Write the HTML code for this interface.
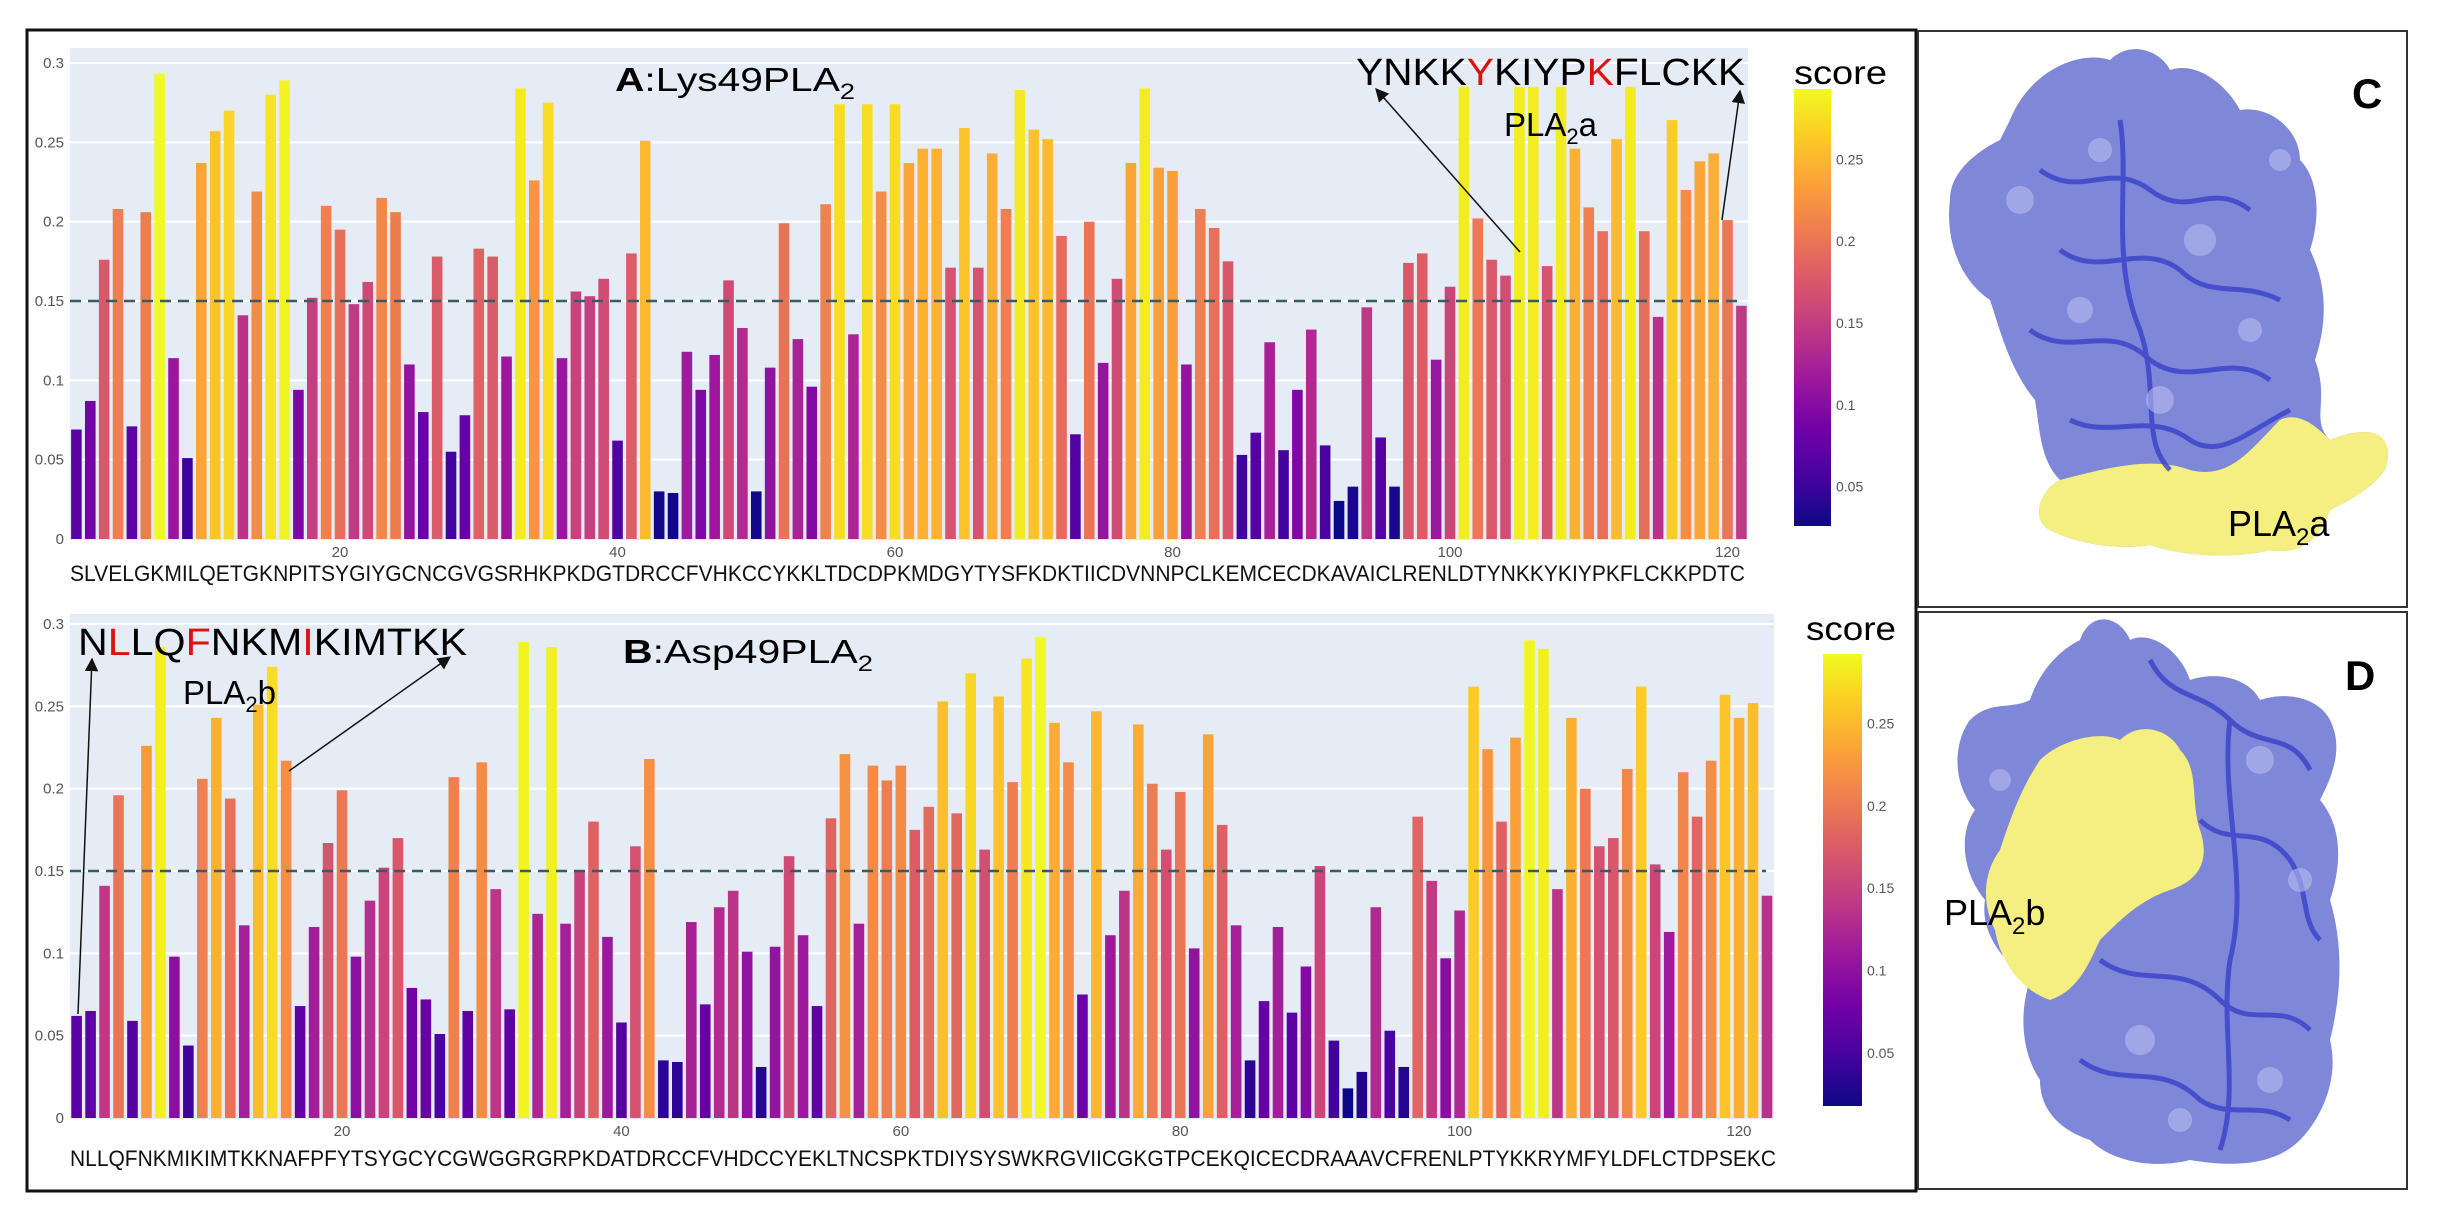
<!DOCTYPE html>
<html><head><meta charset="utf-8"><style>
html,body{margin:0;padding:0;background:#fff;}
svg{display:block;font-family:"Liberation Sans",sans-serif;}
</style></head><body>
<svg id="s" width="2440" height="1218" viewBox="0 0 2440 1218" xmlns="http://www.w3.org/2000/svg">
<defs>
<linearGradient id="pl" x1="0" y1="1" x2="0" y2="0">
<stop offset="0" stop-color="#0d0887"/><stop offset="0.111" stop-color="#46039f"/><stop offset="0.222" stop-color="#7201a8"/><stop offset="0.333" stop-color="#9c179e"/><stop offset="0.444" stop-color="#bd3786"/><stop offset="0.556" stop-color="#d8576b"/><stop offset="0.667" stop-color="#ed7953"/><stop offset="0.778" stop-color="#fb9f3a"/><stop offset="0.889" stop-color="#fdca26"/><stop offset="1" stop-color="#f0f921"/>
</linearGradient>
<marker id="ar" viewBox="0 0 10 10" refX="9" refY="5" markerWidth="9" markerHeight="9" orient="auto"><path d="M0,0 L10,5 L0,10 z" fill="#111"/></marker>
</defs>
<rect x="0" y="0" width="2440" height="1218" fill="#fff"/>
<g id="plots"></g>
<!-- frames -->
<rect x="27" y="30" width="1889" height="1161" fill="none" stroke="#111" stroke-width="3"/>
<rect x="1918" y="31" width="489" height="576" fill="none" stroke="#333" stroke-width="2"/>
<rect x="1918" y="612" width="489" height="577" fill="none" stroke="#333" stroke-width="2"/>

<!-- Titles and annotations A -->
<text x="615" y="91" font-size="33" textLength="240" lengthAdjust="spacingAndGlyphs"><tspan font-weight="bold">A</tspan>:Lys49PLA<tspan font-size="22" dy="8">2</tspan></text>
<text x="1356" y="85" font-size="38" textLength="389" lengthAdjust="spacingAndGlyphs">YNKK<tspan fill="#e01010">Y</tspan>KIYP<tspan fill="#e01010">K</tspan>FLCKK</text>
<text x="1504" y="136" font-size="33">PLA<tspan font-size="22" dy="8">2</tspan><tspan dy="-8">a</tspan></text>
<line x1="1520" y1="252" x2="1376" y2="89" stroke="#111" stroke-width="1.5" marker-end="url(#ar)"/>
<line x1="1722" y1="220" x2="1740" y2="91" stroke="#111" stroke-width="1.5" marker-end="url(#ar)"/>
<text x="1794" y="84" font-size="33" textLength="93" lengthAdjust="spacingAndGlyphs">score</text>

<!-- B -->
<text x="623" y="663" font-size="33" textLength="250" lengthAdjust="spacingAndGlyphs"><tspan font-weight="bold">B</tspan>:Asp49PLA<tspan font-size="22" dy="8">2</tspan></text>
<text x="78" y="655" font-size="38" textLength="389" lengthAdjust="spacingAndGlyphs">N<tspan fill="#e01010">L</tspan>LQ<tspan fill="#e01010">F</tspan>NKM<tspan fill="#e01010">I</tspan>KIMTKK</text>
<text x="183" y="704" font-size="33">PLA<tspan font-size="22" dy="8">2</tspan><tspan dy="-8">b</tspan></text>
<line x1="78" y1="1014" x2="92" y2="659" stroke="#111" stroke-width="1.5" marker-end="url(#ar)"/>
<line x1="289" y1="771" x2="450" y2="657" stroke="#111" stroke-width="1.5" marker-end="url(#ar)"/>
<text x="1806" y="640" font-size="33" textLength="90" lengthAdjust="spacingAndGlyphs">score</text>

<!-- Protein C -->
<g>
<path d="M2010,120 C2030,70 2080,50 2110,60 C2130,40 2160,50 2170,70 C2200,60 2230,90 2240,110 C2270,105 2300,130 2300,160 C2320,180 2320,220 2310,250 C2330,290 2325,330 2315,360 C2330,400 2310,420 2330,440 C2380,420 2395,440 2385,470 C2370,490 2350,500 2330,510 C2320,540 2300,555 2270,550 C2230,560 2180,555 2150,545 C2120,550 2080,545 2050,530 C2030,520 2040,490 2060,480 C2040,460 2040,430 2035,400 C2010,370 2000,330 1990,300 C1960,280 1945,240 1950,200 C1950,170 1980,150 2000,140 Z" fill="#7f88d8"/>
<path d="M2060,480 C2100,470 2150,455 2190,470 C2230,480 2250,450 2280,420 C2300,410 2320,430 2330,440 C2380,420 2395,440 2385,470 C2370,490 2350,500 2330,510 C2320,540 2300,555 2270,550 C2230,560 2180,555 2150,545 C2120,550 2080,545 2050,530 C2030,520 2040,490 2060,480 Z" fill="#f4ef80"/>
<g fill="none" stroke="#3a40c8" stroke-width="5" opacity="0.8">
<path d="M2040,170 C2080,200 2110,160 2150,190 C2190,220 2210,180 2250,210"/>
<path d="M2060,250 C2100,280 2140,240 2180,270 C2210,300 2240,280 2280,300"/>
<path d="M2030,330 C2070,360 2110,320 2150,360 C2190,390 2230,350 2270,380"/>
<path d="M2070,420 C2110,440 2150,410 2190,440 C2220,460 2250,430 2290,410"/>
<path d="M2120,120 C2130,180 2110,260 2140,330 C2160,390 2140,440 2170,470"/>
</g>
<g fill="#b7bdf0" opacity="0.6">
<circle cx="2020" cy="200" r="14"/><circle cx="2100" cy="150" r="12"/><circle cx="2200" cy="240" r="16"/><circle cx="2080" cy="310" r="13"/><circle cx="2250" cy="330" r="12"/><circle cx="2160" cy="400" r="14"/><circle cx="2280" cy="160" r="11"/>
</g>
<text x="2352" y="108" font-size="42" font-weight="bold">C</text>
<text x="2228" y="536" font-size="36">PLA<tspan font-size="24" dy="9">2</tspan><tspan dy="-9">a</tspan></text>
</g>

<!-- Protein D -->
<g>
<path d="M2080,640 C2090,610 2120,615 2130,640 C2150,630 2180,650 2190,680 C2220,670 2250,680 2260,700 C2290,690 2320,700 2330,720 C2345,750 2330,780 2320,800 C2345,830 2340,870 2330,900 C2345,950 2340,1000 2330,1040 C2340,1080 2320,1120 2300,1140 C2270,1170 2220,1165 2190,1160 C2150,1170 2110,1160 2090,1140 C2060,1130 2040,1110 2040,1080 C2020,1050 2020,1010 2030,980 C2000,960 1980,930 1985,900 C1960,870 1960,830 1975,810 C1950,780 1955,740 1970,720 C1990,700 2010,710 2030,700 C2040,670 2060,650 2080,640 Z" fill="#7f88d8"/>
<path d="M2040,760 C2060,740 2100,730 2120,740 C2140,720 2170,730 2180,750 C2200,770 2190,800 2200,830 C2210,860 2200,880 2170,890 C2140,900 2120,920 2100,940 C2090,960 2080,990 2050,1000 C2020,990 2000,960 1995,930 C1980,900 1985,870 2000,850 C2010,820 2020,790 2040,760 Z" fill="#f4ef80"/>
<g fill="none" stroke="#3a40c8" stroke-width="5" opacity="0.8">
<path d="M2150,660 C2170,700 2200,690 2230,720 C2260,750 2290,730 2310,770"/>
<path d="M2200,820 C2230,850 2260,820 2290,860 C2310,890 2300,920 2320,940"/>
<path d="M2100,960 C2140,990 2180,960 2220,1000 C2250,1030 2280,1000 2310,1030"/>
<path d="M2080,1060 C2120,1090 2160,1060 2200,1100 C2230,1120 2260,1100 2290,1120"/>
<path d="M2230,720 C2220,800 2250,880 2230,960 C2220,1030 2240,1090 2220,1150"/>
</g>
<g fill="#b7bdf0" opacity="0.6">
<circle cx="2260" cy="760" r="14"/><circle cx="2300" cy="880" r="12"/><circle cx="2140" cy="1040" r="15"/><circle cx="2270" cy="1080" r="13"/><circle cx="2000" cy="780" r="11"/><circle cx="2180" cy="1120" r="12"/>
</g>
<text x="2345" y="690" font-size="42" font-weight="bold">D</text>
<text x="1944" y="925" font-size="36">PLA<tspan font-size="24" dy="9">2</tspan><tspan dy="-9">b</tspan></text>
</g>
</svg>
<script>
(function(){
var NS="http://www.w3.org/2000/svg";
var g=document.getElementById("plots");
var stops=["#0d0887","#46039f","#7201a8","#9c179e","#bd3786","#d8576b","#ed7953","#fb9f3a","#fdca26","#f0f921"];
function hx(c){return [parseInt(c.substr(1,2),16),parseInt(c.substr(3,2),16),parseInt(c.substr(5,2),16)];}
function plasma(t){t=Math.max(0,Math.min(1,t));var f=t*9,i=Math.floor(f);if(i>=9)return stops[9];var a=hx(stops[i]),b=hx(stops[i+1]),u=f-i;
return "rgb("+[0,1,2].map(function(k){return Math.round(a[k]+(b[k]-a[k])*u);}).join(",")+")";}
function el(n,at,txt){var e=document.createElementNS(NS,n);for(var k in at)e.setAttribute(k,at[k]);if(txt!=null)e.textContent=txt;g.appendChild(e);return e;}
var A=[0.069,0.087,0.176,0.208,0.071,0.206,0.293,0.114,0.051,0.237,0.257,0.27,0.141,0.219,0.28,0.289,0.094,0.152,0.21,0.195,0.148,0.162,0.215,0.206,0.11,0.08,0.178,0.055,0.078,0.183,0.178,0.115,0.284,0.226,0.275,0.114,0.156,0.153,0.164,0.062,0.18,0.251,0.03,0.029,0.118,0.094,0.116,0.163,0.133,0.03,0.108,0.199,0.126,0.096,0.211,0.274,0.129,0.274,0.219,0.274,0.237,0.246,0.246,0.171,0.259,0.171,0.243,0.208,0.283,0.258,0.252,0.191,0.066,0.2,0.111,0.164,0.237,0.284,0.234,0.232,0.11,0.208,0.196,0.175,0.053,0.067,0.124,0.056,0.094,0.132,0.059,0.024,0.033,0.146,0.064,0.033,0.174,0.18,0.113,0.159,0.285,0.202,0.176,0.166,0.285,0.285,0.172,0.285,0.246,0.209,0.194,0.252,0.285,0.194,0.14,0.264,0.22,0.238,0.243,0.201,0.147];
var B=[0.062,0.065,0.141,0.196,0.059,0.226,0.286,0.098,0.044,0.206,0.243,0.194,0.117,0.251,0.274,0.217,0.068,0.116,0.167,0.199,0.098,0.132,0.152,0.17,0.079,0.072,0.051,0.207,0.065,0.216,0.139,0.066,0.289,0.124,0.286,0.118,0.15,0.18,0.11,0.058,0.165,0.218,0.035,0.034,0.119,0.069,0.128,0.138,0.101,0.031,0.104,0.159,0.111,0.068,0.182,0.221,0.118,0.214,0.205,0.214,0.175,0.189,0.253,0.185,0.27,0.163,0.256,0.204,0.279,0.292,0.24,0.216,0.075,0.247,0.111,0.138,0.239,0.203,0.163,0.198,0.103,0.233,0.178,0.117,0.035,0.071,0.116,0.064,0.092,0.153,0.047,0.018,0.028,0.128,0.053,0.031,0.183,0.144,0.097,0.126,0.262,0.224,0.18,0.231,0.29,0.285,0.139,0.243,0.2,0.165,0.17,0.212,0.262,0.154,0.113,0.21,0.183,0.217,0.257,0.243,0.252,0.135];
function panel(d,o){
 var L=o.left,R=o.right,T=o.top,Y0=o.y0,Y3=o.y3,ppv=(Y0-Y3)/0.3;
 el("rect",{x:L,y:T,width:R-L,height:Y0-T+1,fill:"#e5ecf6"});
 for(var i=1;i<=6;i++){var y=Y0-i*0.05*ppv;el("line",{x1:L,x2:R,y1:y,y2:y,stroke:"#fff","stroke-width":2});}
 var labs=["0","0.05","0.1","0.15","0.2","0.25","0.3"];
 for(var i=0;i<=6;i++){el("text",{x:L-6,y:Y0-i*0.05*ppv+5,"font-size":15,fill:"#555","text-anchor":"end"},labs[i]);}
 var sp=o.sp;
 for(var n=1;n<=d.length;n++){var v=d[n-1],cx=o.x1+(n-1)*sp,h=v*ppv;
  el("rect",{x:cx-5.3,y:Y0-h,width:10.6,height:h,fill:plasma((v-o.cmin)/(o.cmax-o.cmin))});}
 var yd=Y0-0.15*ppv;
 el("line",{x1:L,x2:R-8,y1:yd,y2:yd,stroke:"#3d5a63","stroke-width":2.5,"stroke-dasharray":"11,7"});
 [20,40,60,80,100,120].forEach(function(t){el("text",{x:o.x1+(t-1)*sp,y:Y0+18,"font-size":15,fill:"#555","text-anchor":"middle"},String(t));});
 el("text",{x:o.seqx,y:o.seqy,"font-size":22,textLength:o.seqw,lengthAdjust:"spacingAndGlyphs",fill:"#111"},o.seq);
 el("rect",{x:o.cbx,y:o.cbt,width:o.cbw,height:o.cbb-o.cbt,fill:"url(#pl)"});
 ["0.05","0.1","0.15","0.2","0.25"].forEach(function(s){var v=parseFloat(s);var y=o.cbb-(v-o.cmin)/(o.cmax-o.cmin)*(o.cbb-o.cbt);
  el("text",{x:o.cbx+o.cbw+5,y:y+5,"font-size":14,fill:"#555"},s);});
}
panel(A,{left:70,right:1748,top:48,y0:539,y3:63,sp:13.875,x1:76.4,cmin:0.026,cmax:0.293,
 seq:"SLVELGKMILQETGKNPITSYGIYGCNCGVGSRHKPKDGTDRCCFVHKCCYKKLTDCDPKMDGYTYSFKDKTIICDVNNPCLKEMCECDKAVAICLRENLDTYNKKYKIYPKFLCKKPDTC",
 seqx:70,seqy:581,seqw:1675,cbx:1794,cbw:37,cbt:89,cbb:526});
panel(B,{left:70,right:1774,top:614,y0:1118,y3:624,sp:13.97,x1:76.6,cmin:0.018,cmax:0.292,
 seq:"NLLQFNKMIKIMTKKNAFPFYTSYGCYCGWGGRGRPKDATDRCCFVHDCCYEKLTNCSPKTDIYSYSWKRGVIICGKGTPCEKQICECDRAAAVCFRENLPTYKKRYMFYLDFLCTDPSEKC",
 seqx:70,seqy:1166,seqw:1706,cbx:1823,cbw:39,cbt:654,cbb:1106});
})();
</script>
</body></html>
